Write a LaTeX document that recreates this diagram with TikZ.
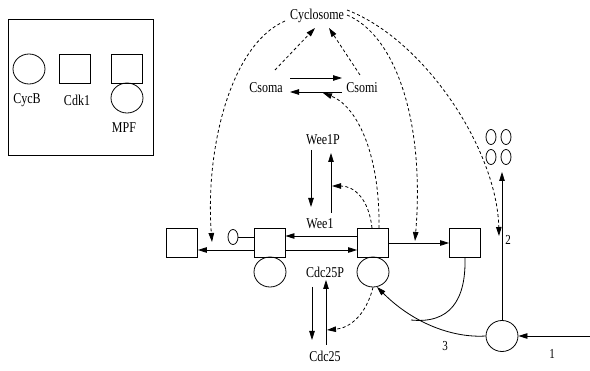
\documentclass[tikz,border=0pt]{standalone}
\usepackage{fontspec}
\setmainfont{Liberation Serif}
\usetikzlibrary{arrows.meta,shapes.geometric}
\newcommand\tallt[1]{\scalebox{1}[1.25]{#1}}
\begin{document}
\begin{tikzpicture}[x=1pt,y=-1pt,
 line width=0.8pt,
 >={Triangle[length=9pt,width=5.5pt]},
 sq/.style={draw,rectangle,minimum width=31pt,minimum height=29pt,inner sep=0pt},
 circ/.style={draw,ellipse,minimum width=32pt,minimum height=30pt,inner sep=0pt},
 sm/.style={draw,ellipse,minimum width=10pt,minimum height=15pt,inner sep=0pt},
 lbl/.style={inner sep=0pt,font=\fontsize{12}{14}\selectfont},
 num/.style={inner sep=0pt,font=\fontsize{11}{13}\selectfont},
 dsh/.style={dash pattern=on 3pt off 2.5pt}]
\useasboundingbox (0,0) rectangle (590,371);
\fill[white] (0,0) rectangle (590,371);
% legend
\node[draw,rectangle,minimum width=145pt,minimum height=136pt,inner sep=0pt] (legend) at (80.5,87) {};
\node[circ] (lcyc) at (29,69) {};
\node[sq] (lcdk) at (75,68.5) {};
\node[sq] (lmpfs) at (127,68.5) {};
\node[circ] (lmpfc) at (127,98) {};
\node[lbl] (tcyc) at (27,100) {\tallt{CycB}};
\node[lbl] (tcdk) at (77,100) {\tallt{Cdk1}};
\node[lbl] (tmpf) at (124,128) {\tallt{MPF}};
% texts
\node[lbl] (cyclo) at (317,16) {\tallt{Cyclosome}};
\node[lbl] (csoma) at (266,88) {\tallt{Csoma}};
\node[lbl] (csomi) at (362,88) {\tallt{Csomi}};
\node[lbl] (wee1p) at (323,140) {\tallt{Wee1P}};
\node[lbl] (wee1) at (320,224) {\tallt{Wee1}};
\node[lbl] (cdcp) at (325,272) {\tallt{Cdc25P}};
\node[lbl] (cdc) at (325,356) {\tallt{Cdc25}};
\node[num] (n1) at (552,354) {\tallt{1}};
\node[num] (n2) at (508,240) {\tallt{2}};
\node[num] (n3) at (445,346) {\tallt{3}};
% boxes
\node[sq] (b1) at (182,243) {};
\node[sq] (b2) at (269.5,243) {};
\node[circ] (c2) at (270,272) {};
\node[sq] (b3) at (373,243) {};
\node[circ] (c3) at (373,272) {};
\node[sq] (b4) at (465,243) {};
\node[sm] (e1) at (233,237) {};
\node[circ,minimum width=32pt,minimum height=31pt] (m) at (502,336) {};
\node[sm] (s1) at (491,137) {};
\node[sm] (s2) at (506,137) {};
\node[sm] (s3) at (491,157) {};
\node[sm] (s4) at (506,157) {};
% solid arrows
\draw[->] ([yshift=-7pt]b2.west) -- ([yshift=-7pt]b1.east);
\draw[->] ([yshift=7pt]b3.west) -- ([yshift=7pt]b2.east);
\draw[->] ([yshift=-7pt]b2.east) -- ([yshift=-7pt]b3.west);
\draw[->] (b3.east) -- (b4.west);
\draw (e1.east) -- (e1.east -| b2.west);
\draw[->] (290,78) -- (342,78);
\draw[->] (342,92) -- (290,92);
\coordinate (w1a) at (311,150); \coordinate (w1b) at (311,207);
\coordinate (w2a) at (331,213); \coordinate (w2b) at (331,153);
\draw[->] (w1a) -- (w1b);
\draw[->] (w2a) -- (w2b);
\coordinate (d1a) at (312,287); \coordinate (d1b) at (312,340);
\coordinate (d2a) at (326,345); \coordinate (d2b) at (326,280);
\draw[->] (d1a) -- (d1b);
\draw[->] (d2a) -- (d2b);
\coordinate (top) at (502,172);
\draw[->] (m.north) -- (top);
\coordinate (rin) at (590,336);
\draw[->] (rin) -- (m.east);
\coordinate (c3t) at (377,287);
\draw[->] (m.west) .. controls (455,338) and (415,325) .. (c3t);
\draw (b4.south) .. controls (466,300) and (450,324) .. (411,320);
% dashed arrows
\coordinate (tL) at (212,242);
\draw[->,dsh] (285,21) .. controls (230,45) and (205,150) .. (tL);
\coordinate (tM) at (415,241);
\draw[->,dsh] (347,15) .. controls (395,35) and (425,120) .. (tM);
\coordinate (tR) at (499,236);
\draw[->,dsh] (347,10) .. controls (425,40) and (497,150) .. (tR);
\coordinate (ca1) at (275,70); \coordinate (ca2) at (315,28);
\draw[->,dsh] (ca1) -- (ca2);
\coordinate (ci1) at (360,75); \coordinate (ci2) at (329,28);
\draw[->,dsh] (ci1) -- (ci2);
\coordinate (tCs) at (323,93);
\draw[->,dsh] ([xshift=6pt]b3.north) .. controls (380,150) and (355,105) .. (tCs);
\coordinate (tW) at (332,186);
\draw[->,dsh] ([xshift=-1pt]b3.north) .. controls (369,200) and (355,186) .. (tW);
\coordinate (tC) at (327,330);
\draw[->,dsh] (c3.south) .. controls (366,315) and (350,328) .. (tC);
\end{tikzpicture}
\end{document}
